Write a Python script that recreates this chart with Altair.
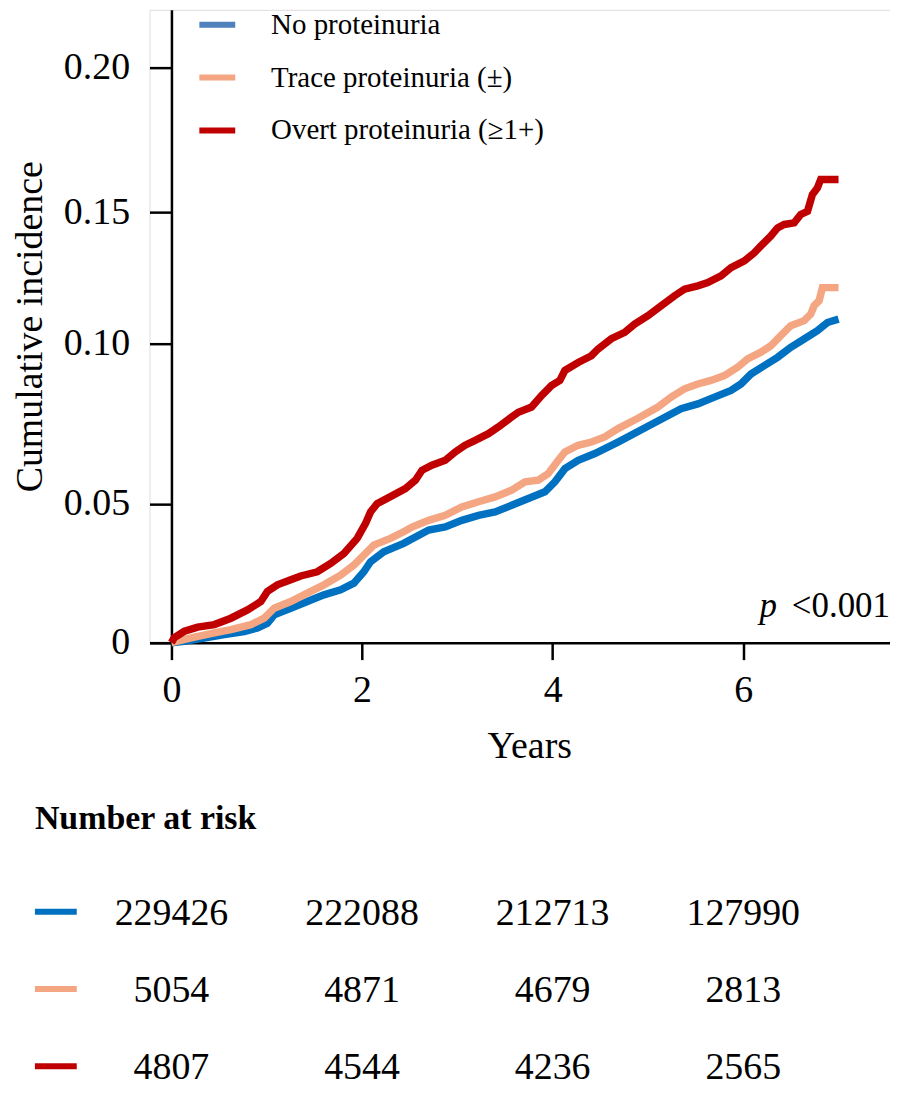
import altair as alt
import pandas as pd

FONT = "'Liberation Serif', 'Times New Roman', Times, 'DejaVu Serif', serif"

groups = ["No proteinuria", "Trace proteinuria (±)", "Overt proteinuria (≥1+)"]
curve_colors = ["#0070C0", "#F4A582", "#C00000"]
legend_colors = ["#4F81BD", "#F4A582", "#C00000"]

# Cumulative incidence curves (years, cumulative incidence)
no_t = [0, 0.136, 0.345, 0.554, 0.764, 0.903, 1.007, 1.078, 1.252, 1.426, 1.6, 1.775, 1.914, 2.019, 2.089,
        2.228, 2.437, 2.699, 2.873, 3.047, 3.222, 3.396, 3.57, 3.745, 3.919, 4.024, 4.129, 4.268, 4.443, 4.686,
        5.0, 5.348, 5.523, 5.698, 5.872, 5.976, 6.081, 6.221, 6.36, 6.499, 6.639, 6.778, 6.883, 7.0]
no_v = [0, 0.0005, 0.0017, 0.0029, 0.004, 0.0053, 0.007, 0.01, 0.0124, 0.0148, 0.0172, 0.019, 0.0214, 0.0255, 0.0291,
        0.0327, 0.0357, 0.0405, 0.0416, 0.044, 0.0458, 0.047, 0.0494, 0.0516, 0.0537, 0.0568, 0.0609, 0.0635, 0.0656, 0.0692,
        0.0741, 0.0796, 0.0811, 0.0832, 0.0853, 0.0873, 0.0904, 0.093, 0.0956, 0.0987, 0.1016, 0.1048, 0.1079, 0.1092]

trace_t = [0, 0.206, 0.45, 0.624, 0.834, 0.973, 1.078, 1.252, 1.426, 1.6, 1.775, 1.914, 2.019, 2.123, 2.298,
           2.437, 2.524, 2.699, 2.873, 3.047, 3.222, 3.396, 3.57, 3.71, 3.849, 3.954, 4.059, 4.129, 4.268, 4.407,
           4.547, 4.686, 4.895, 5.105, 5.244, 5.384, 5.523, 5.662, 5.802, 5.941, 6.046, 6.185, 6.29, 6.394, 6.499,
           6.639, 6.708, 6.744, 6.796, 6.831, 7.0]
trace_v = [0, 0.0017, 0.0035, 0.0047, 0.0065, 0.0088, 0.0124, 0.0148, 0.0178, 0.0208, 0.0243, 0.0279, 0.0315, 0.0351, 0.0375,
           0.0399, 0.0416, 0.044, 0.0458, 0.0488, 0.0506, 0.0521, 0.0542, 0.0568, 0.0573, 0.0594, 0.0635, 0.0661, 0.0682, 0.0692,
           0.0708, 0.0734, 0.0766, 0.0801, 0.0832, 0.0858, 0.0873, 0.0884, 0.0899, 0.0925, 0.0951, 0.0972, 0.0992, 0.1029, 0.1067,
           0.1086, 0.1111, 0.1143, 0.1162, 0.1212, 0.1212]

overt_t = [0, 0.03, 0.136, 0.275, 0.45, 0.624, 0.798, 0.938, 1.007, 1.112, 1.252, 1.357, 1.53, 1.671, 1.81,
           1.949, 2.037, 2.089, 2.158, 2.298, 2.455, 2.56, 2.629, 2.733, 2.873, 2.978, 3.082, 3.187, 3.326, 3.431,
           3.57, 3.64, 3.779, 3.884, 3.988, 4.076, 4.128, 4.268, 4.407, 4.477, 4.616, 4.756, 4.861, 5.0, 5.139,
           5.28, 5.384, 5.523, 5.628, 5.767, 5.872, 6.012, 6.116, 6.185, 6.29, 6.36, 6.43, 6.534, 6.604, 6.674,
           6.726, 6.778, 6.813, 7.0]
overt_v = [0, 0.0018, 0.0041, 0.0056, 0.0065, 0.0088, 0.0118, 0.0148, 0.0184, 0.0208, 0.0226, 0.024, 0.0255, 0.0285, 0.0321,
           0.0375, 0.0429, 0.047, 0.05, 0.0522, 0.0547, 0.0573, 0.0604, 0.062, 0.0635, 0.0661, 0.0682, 0.0697, 0.0718, 0.0739,
           0.077, 0.0785, 0.0801, 0.0837, 0.0868, 0.0884, 0.0915, 0.094, 0.0961, 0.0982, 0.1017, 0.1041, 0.1073, 0.1105, 0.1143,
           0.1181, 0.1206, 0.1219, 0.1231, 0.1257, 0.1288, 0.1314, 0.1345, 0.1371, 0.1409, 0.144, 0.1453, 0.1459, 0.1491, 0.1503,
           0.1561, 0.1584, 0.1613, 0.1613]

# Number at risk
risk_times = [0, 2, 4, 6]
risk_no = [229426, 222088, 212713, 127990]
risk_trace = [5054, 4871, 4679, 2813]
risk_overt = [4807, 4544, 4236, 2565]

x_ticks = [0, 2, 4, 6]
y_ticks = [0, 0.05, 0.10, 0.15, 0.20]

rows = []
for g, ts, vs in zip(groups, [no_t, trace_t, overt_t], [no_v, trace_v, overt_v]):
    for i, (t, v) in enumerate(zip(ts, vs)):
        rows.append({"group": g, "t": t, "v": v, "o": i})
curves = pd.DataFrame(rows)

risk = pd.DataFrame([
    {"group": g, "t": t, "n": n}
    for g, ns in zip(groups, [risk_no, risk_trace, risk_overt])
    for t, n in zip(risk_times, ns)
])

W, H = 743, 635
x_scale = alt.Scale(domain=[-0.23, 7.54], nice=False, zero=False)
y_scale = alt.Scale(domain=[0, 0.05, 0.10, 0.15, 0.20, 0.22],
                    range=[635, 495.5, 334.5, 203, 58, 0], nice=False, zero=False)

x_axis = alt.Axis(values=x_ticks, title="Years", grid=False, labelFont=FONT, labelFontSize=38,
                  titleFont=FONT, titleFontSize=38, titleFontWeight="normal", titlePadding=18,
                  titleX=381, labelPadding=12, tickSize=17, tickWidth=2.5, domainWidth=2.5,
                  domainColor="black", tickColor="black", labelColor="black", titleColor="black",
                  format="d")
y_axis = alt.Axis(values=y_ticks, title="Cumulative incidence", grid=False, offset=-22,
                  labelFont=FONT, labelFontSize=38, titleFont=FONT, titleFontSize=38,
                  titleFontWeight="normal", titlePadding=14, labelPadding=20, tickSize=22,
                  tickWidth=2.5, domainWidth=2.5, domainColor="black", tickColor="black",
                  labelColor="black", titleColor="black",
                  labelExpr="datum.value == 0 ? '0' : format(datum.value, '.2f')")

stroke_scale = alt.Scale(domain=groups, range=curve_colors)

base = alt.Chart(curves)

legend_layer = base.mark_line(opacity=0).encode(
    x=alt.X("t:Q", scale=x_scale, axis=x_axis),
    y=alt.Y("v:Q", scale=y_scale, axis=y_axis),
    order="o:Q",
    color=alt.Color("group:N", scale=alt.Scale(domain=groups, range=legend_colors),
                    legend=alt.Legend(title=None, orient="none", legendX=47, legendY=-6,
                                      symbolType="stroke", symbolSize=1296, symbolStrokeWidth=6,
                                      symbolOpacity=1, labelFont=FONT, labelFontSize=29,
                                      labelColor="black", labelOffset=33, rowPadding=17,
                                      padding=0, labelLimit=0)),
)

curve_layers = []
for g in groups:
    curve_layers.append(
        base.transform_filter(alt.datum.group == g).mark_line(strokeWidth=7.5, strokeCap="butt").encode(
            x=alt.X("t:Q", scale=x_scale, axis=x_axis),
            y=alt.Y("v:Q", scale=y_scale, axis=None),
            order="o:Q",
            stroke=alt.Stroke("group:N", scale=stroke_scale, legend=None),
        )
    )

pval = pd.DataFrame({"p": ["p"], "rest": ["<0.001"]})
p_italic = alt.Chart(pval).mark_text(font=FONT, fontSize=35, fontStyle="italic", align="left",
                                     baseline="alphabetic", color="black").encode(
    x=alt.value(612), y=alt.value(609), text="p:N")
p_rest = alt.Chart(pval).mark_text(font=FONT, fontSize=35, align="right",
                                   baseline="alphabetic", color="black").encode(
    x=alt.value(743), y=alt.value(609), text="rest:N")

risk_y = alt.Y("group:N", scale=alt.Scale(type="point", domain=groups, range=[905, 1060], padding=0),
               axis=None)
risk_text = alt.Chart(risk).mark_text(font=FONT, fontSize=38, align="center", baseline="middle",
                                      color="black", dy=2).encode(
    x=alt.X("t:Q", scale=x_scale, axis=x_axis),
    y=risk_y,
    text=alt.Text("n:Q", format="d"),
)
risk_sym = alt.Chart(pd.DataFrame({"group": groups})).mark_rule(strokeWidth=6).encode(
    x=alt.value(-115), x2=alt.value(-73),
    y=risk_y,
    stroke=alt.Stroke("group:N", scale=stroke_scale, legend=None),
)
risk_title = alt.Chart(pd.DataFrame({"s": ["Number at risk"]})).mark_text(
    font=FONT, fontSize=34, fontWeight="bold", align="left", baseline="middle", color="black").encode(
    x=alt.value(-115), y=alt.value(812), text="s:N")

chart = alt.layer(
    legend_layer, *curve_layers, p_italic, p_rest, risk_text, risk_sym, risk_title
).resolve_scale(y="independent").properties(
    width=W, height=H,
    autosize=alt.AutoSizeParams(type="none"),
    padding={"left": 142, "top": 0, "right": 0, "bottom": 444},
).configure_view(stroke=None).configure(font=FONT)

chart.save("out.html", embed_options={"renderer": "svg", "actions": False})
